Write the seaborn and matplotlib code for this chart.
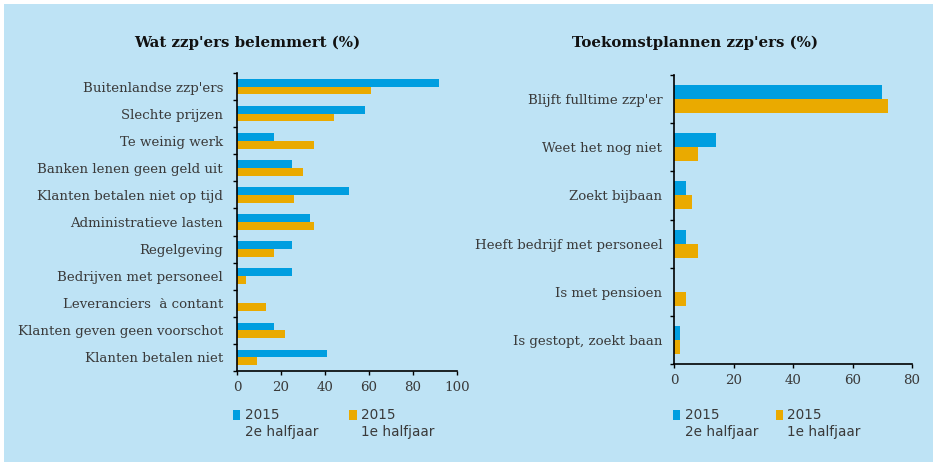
import numpy as np
import pandas as pd
import seaborn as sns
import matplotlib
matplotlib.use('Agg')
import matplotlib.pyplot as plt
from matplotlib.patches import Rectangle
from matplotlib.legend_handler import HandlerPatch

# data
belemmert_cats = ["Buitenlandse zzp'ers", "Slechte prijzen", "Te weinig werk",
                  "Banken lenen geen geld uit", "Klanten betalen niet op tijd",
                  "Administratieve lasten", "Regelgeving", "Bedrijven met personeel",
                  "Leveranciers  à contant", "Klanten geven geen voorschot",
                  "Klanten betalen niet"]
belemmert_2e = [92, 58, 17, 25, 51, 33, 25, 25, 0, 17, 41]
belemmert_1e = [61, 44, 35, 30, 26, 35, 17, 4, 13, 22, 9]

plannen_cats = ["Blijft fulltime zzp'er", "Weet het nog niet", "Zoekt bijbaan",
                "Heeft bedrijf met personeel", "Is met pensioen",
                "Is gestopt, zoekt baan"]
plannen_2e = [70, 14, 4, 4, 0, 2]
plannen_1e = [72, 8, 6, 8, 4, 2]

periods = ["2015\n2e halfjaar", "2015\n1e halfjaar"]
left_ticks = [0, 20, 40, 60, 80, 100]
right_ticks = [0, 20, 40, 60, 80]

BG = '#BEE3F5'
BLUE = '#009EE0'
ORANGE = '#EAAA00'
TXT = '#3a3a3a'

sns.set_theme(style='ticks')
plt.rcParams['font.family'] = ['DejaVu Serif', 'DejaVu Sans']

fig = plt.figure(figsize=(9.33, 4.62), dpi=100, facecolor='white')
fig.patches.append(Rectangle((4 / 933, 0), 1, (462 - 4) / 462, transform=fig.transFigure,
                             facecolor=BG, edgecolor='none', zorder=-10))

ax1 = fig.add_axes([237 / 933, 1 - 371 / 462, 220 / 933, (371 - 73) / 462])
ax2 = fig.add_axes([674 / 933, 1 - 364 / 462, 238 / 933, (364 - 75) / 462])


def shifted_patch(legend, orig_handle, xdescent, ydescent, width, height, fontsize):
    return Rectangle((-xdescent, -ydescent + 0.66 * fontsize), width, height, linewidth=0)


def draw(ax, cats, v2, v1, xticks, label_pad, leg_xy, colspace):
    n = len(cats)
    df = pd.DataFrame({'cat': cats * 2, 'val': v2 + v1,
                       'periode': [periods[0]] * n + [periods[1]] * n})
    sns.barplot(data=df, y='cat', x='val', hue='periode', hue_order=periods,
                palette=[BLUE, ORANGE], width=0.58, orient='h', ax=ax,
                saturation=1, linewidth=0, legend=False)
    ax.set_facecolor('none')
    ax.set_xlabel('')
    ax.set_ylabel('')
    ax.set_xlim(xticks[0], xticks[-1])
    ax.set_xticks(xticks)
    ax.set_ylim(n - 0.5, -0.5)
    ax.set_yticks(np.arange(n + 1) - 0.5)
    ax.set_yticklabels([])
    ax.set_yticks(np.arange(n), minor=True)
    ax.set_yticklabels(cats, minor=True)
    ax.tick_params(axis='y', which='minor', length=0, pad=label_pad, labelsize=9.6, labelcolor=TXT)
    ax.tick_params(axis='both', which='major', length=3, width=1, color='black',
                   labelsize=9.6, labelcolor=TXT, pad=4)
    for s in ['top', 'right']:
        ax.spines[s].set_visible(False)
    for s in ['left', 'bottom']:
        ax.spines[s].set_color('black')
        ax.spines[s].set_linewidth(1.2)

    handles = [Rectangle((0, 0), 1, 1, facecolor=BLUE, linewidth=0),
               Rectangle((0, 0), 1, 1, facecolor=ORANGE, linewidth=0)]
    leg = fig.legend(handles, periods, loc='upper left', bbox_to_anchor=leg_xy,
                     bbox_transform=fig.transFigure, ncol=2, frameon=False,
                     borderpad=0, borderaxespad=0, handlelength=0.55, handleheight=0.75,
                     handletextpad=0.3, columnspacing=colspace,
                     prop={'family': 'DejaVu Sans', 'size': 9.8},
                     handler_map={Rectangle: HandlerPatch(patch_func=shifted_patch)})
    for t in leg.get_texts():
        t.set_color(TXT)
        t.set_linespacing(1.3)


draw(ax1, belemmert_cats, belemmert_2e, belemmert_1e, left_ticks, 10,
     (233 / 933, 1 - 408 / 462), 2.3)
draw(ax2, plannen_cats, plannen_2e, plannen_1e, right_ticks, 8.5,
     (673 / 933, 1 - 408 / 462), 1.3)

fig.text(247 / 933, 1 - 43 / 462, "Wat zzp'ers belemmert (%)", ha='center', va='center',
         fontsize=10.8, fontweight='bold', color='#111111')
fig.text(695 / 933, 1 - 43 / 462, "Toekomstplannen zzp'ers (%)", ha='center', va='center',
         fontsize=10.8, fontweight='bold', color='#111111')

fig.savefig('out.png', dpi=100, facecolor=fig.get_facecolor())
